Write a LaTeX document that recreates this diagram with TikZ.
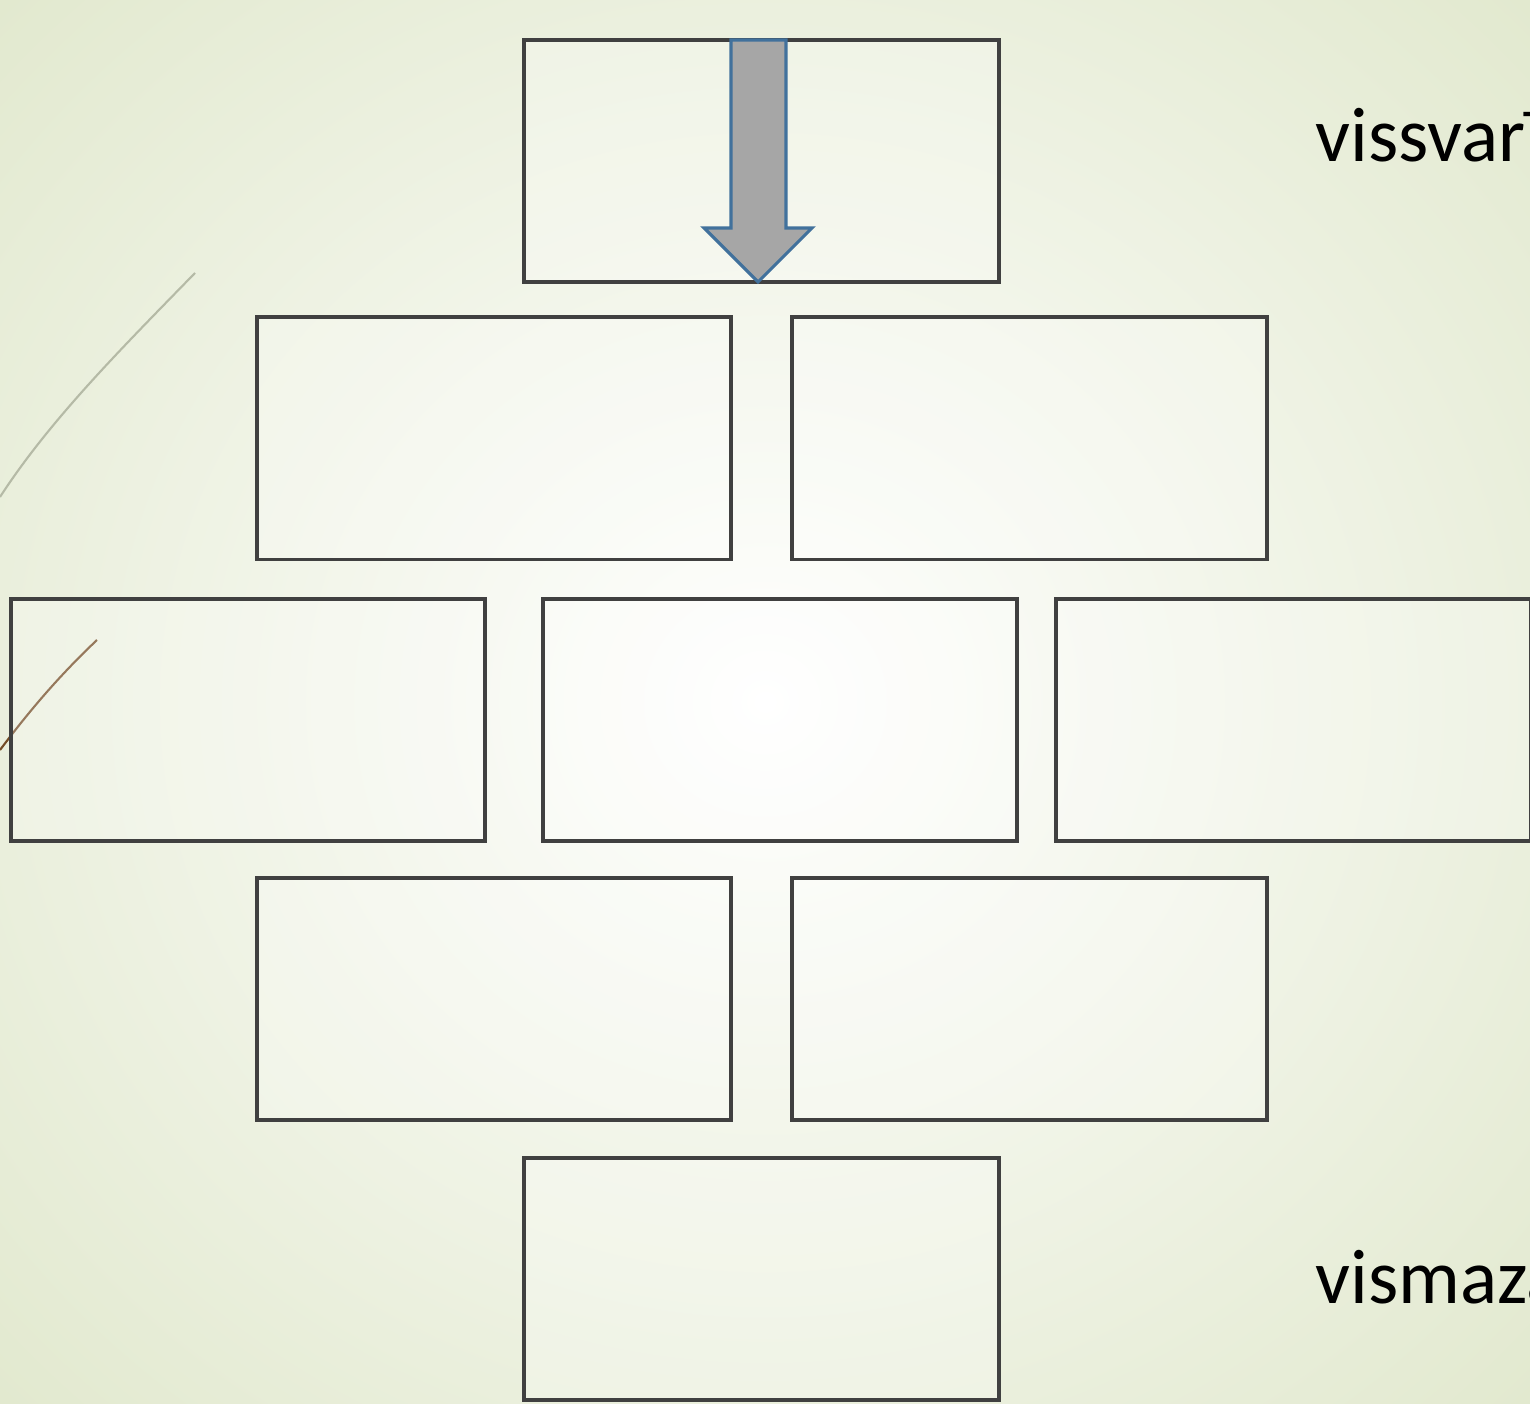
\documentclass[tikz,border=0pt]{standalone}
\usepackage{fontspec}
\setmainfont{Carlito}
\begin{document}
\begin{tikzpicture}[x=0.01cm,y=-0.01cm,
  brick/.style={draw=boxgray,line width=1.1pt,fill=white,fill opacity=0.25,text opacity=1,minimum width=4.74cm,minimum height=2.42cm,inner sep=0pt},
  lbl/.style={anchor=base west,font=\fontsize{22}{26}\selectfont,text=black,inner sep=0pt}]
\definecolor{boxgray}{HTML}{404040}
\definecolor{bgout}{HTML}{E2E9CF}
\definecolor{arrowfill}{HTML}{A6A6A6}
\definecolor{arrowline}{HTML}{41719C}
\useasboundingbox (0,0) rectangle (1530,1404);
\clip (0,0) rectangle (1530,1404);
\shade[inner color=white,outer color=bgout] (-300,-300) rectangle (1830,1704);
% background decoration lines
\draw[color=black!20!bgout,line width=0.6pt] (195,273) .. controls (120,350) and (50,420) .. (0,497);
\draw[color=brown!60!black,line width=0.6pt] (97,640) .. controls (60,675) and (30,710) .. (0,750);
% bricks
\node[brick] (r1) at (761.5,161) {};
\node[brick] (r2a) at (494,438.5) {};
\node[brick] (r2b) at (1029.5,438.5) {};
\node[brick] (r3a) at (248,720) {};
\node[brick] (r3b) at (780,720) {};
\node[brick] (r3c) at (1293.5,720) {};
\node[brick] (r4a) at (494,999) {};
\node[brick] (r4b) at (1029.5,999) {};
\node[brick] (r5) at (761.5,1279) {};
% arrow
\draw[fill=arrowfill,draw=arrowline,line width=0.9pt,line join=miter]
  (731,40) -- (786,40) -- (786,228) -- (812,228) -- (758,282) -- (704,228) -- (731,228) -- cycle;
% labels (cut off at the right edge, as in the reference)
\node[lbl] (top) at (1315,162) {vissvarī};
\node[lbl] (bot) at (1315,1303) {vismazā};
\end{tikzpicture}
\end{document}
